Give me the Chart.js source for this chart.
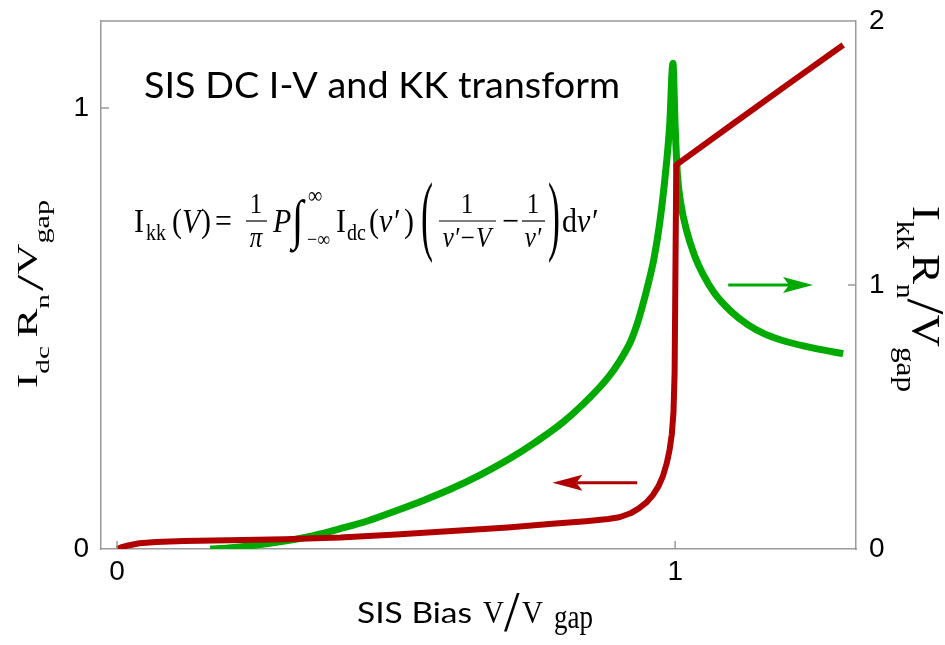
<!DOCTYPE html>
<html>
<head>
<meta charset="utf-8">
<script src="https://cdn.jsdelivr.net/npm/chart.js@4.4.1/dist/chart.umd.min.js"></script>
<style>
  html, body { margin: 0; padding: 0; background: #ffffff; }
  #wrap { width: 945px; height: 645px; position: relative; }
</style>
</head>
<body>
<div id="wrap"><canvas id="c" width="945" height="645"></canvas></div>
<script>
// ---------------- data ----------------
const xTicks = [0, 1];
const yLeftTicks = [0, 1];
const yRightTicks = [0, 1, 2];

// DC I-V curve (left axis)
const idcBias = [0, 0.01, 0.02, 0.04, 0.07, 0.12, 0.2, 0.3, 0.4, 0.5, 0.6, 0.7, 0.78, 0.84, 0.88, 0.9, 0.92, 0.935, 0.948, 0.96, 0.97, 0.978, 0.985, 0.99, 0.994, 0.997, 0.999, 1.0, 1.002, 1.1, 1.2, 1.301];
const idcCurrent = [0, 0.005, 0.008, 0.013, 0.016, 0.018, 0.02, 0.022, 0.026, 0.033, 0.041, 0.049, 0.057, 0.063, 0.068, 0.072, 0.081, 0.092, 0.105, 0.122, 0.142, 0.165, 0.195, 0.225, 0.26, 0.31, 0.4, 0.55, 0.871, 0.961, 1.052, 1.143];

// KK transform (right axis)
const kkBias = [0.167, 0.2, 0.25, 0.3, 0.35, 0.4, 0.45, 0.5, 0.55, 0.6, 0.65, 0.7, 0.75, 0.8, 0.85, 0.88, 0.9, 0.92, 0.93, 0.94, 0.95, 0.962, 0.972, 0.98, 0.99, 0.996, 1.0, 1.004, 1.01, 1.02, 1.035, 1.05, 1.07, 1.1, 1.13, 1.16, 1.2, 1.25, 1.301];
const kkCurrent = [0, 0.004, 0.015, 0.03, 0.05, 0.077, 0.107, 0.145, 0.185, 0.229, 0.28, 0.338, 0.405, 0.482, 0.58, 0.65, 0.71, 0.785, 0.84, 0.91, 0.99, 1.1, 1.23, 1.37, 1.6, 1.84, 1.6, 1.42, 1.31, 1.21, 1.11, 1.04, 0.97, 0.9, 0.85, 0.815, 0.785, 0.76, 0.74];

// direction arrows (data coordinates: tail -> tip)
const idcArrowX = [0.932, 0.78];
const idcArrowY = [0.15, 0.15];
const kkArrowX = [1.095, 1.247];
const kkArrowY = [1.0, 1.0];

// ---------------- styling ----------------
const RED = '#b00000';
const GREEN = '#00aa00';
const AXIS = '#9a9a9a';
const SERIF = '"Liberation Serif", "DejaVu Serif", serif';
const SANS_T = 'Lato, "Open Sans", sans-serif';
const SANS_N = '"Liberation Sans", Arial, sans-serif';

function fontOf(p) {
  return (p.italic ? 'italic ' : '') + p.size + 'px ' + (p.family || SERIF);
}

function T(ctx, s, x, y, size, o) {
  o = o || {};
  ctx.save();
  ctx.translate(x, y);
  if (o.rot) ctx.rotate(o.rot);
  ctx.scale(o.sx || 1, o.sy || 1);
  ctx.font = fontOf({ size: size, italic: o.italic, family: o.family });
  ctx.textAlign = o.align || 'left';
  ctx.textBaseline = 'alphabetic';
  ctx.fillStyle = '#000';
  ctx.fillText(s, 0, 0);
  ctx.restore();
}

// sequential rich text laid out along its baseline and fitted to a length
function rich(ctx, pieces, x, y, rot, length, across) {
  ctx.save();
  let total = 0;
  const w = pieces.map(p => { ctx.font = fontOf(p); const v = ctx.measureText(p.t).width; total += v + (p.gap || 0); return v; });
  const k = length / total;
  ctx.translate(x, y);
  ctx.rotate(rot);
  ctx.scale(k, across);
  ctx.fillStyle = '#000';
  ctx.textAlign = 'left';
  ctx.textBaseline = 'alphabetic';
  let cur = 0;
  pieces.forEach((p, i) => {
    cur += p.gap || 0;
    ctx.font = fontOf(p);
    ctx.fillText(p.t, cur, (p.dy || 0) / across);
    cur += w[i];
  });
  ctx.restore();
}

function hline(ctx, x0, x1, y, w) {
  ctx.save();
  ctx.strokeStyle = '#000';
  ctx.lineWidth = w || 1.2;
  ctx.beginPath(); ctx.moveTo(x0, y); ctx.lineTo(x1, y); ctx.stroke();
  ctx.restore();
}

function arrow(ctx, x0, y0, x1, y1, color) {
  const dir = Math.sign(x1 - x0) || 1;
  const L = 30, H = 8, N = 24;
  ctx.save();
  ctx.strokeStyle = color; ctx.fillStyle = color; ctx.lineWidth = 3;
  ctx.beginPath(); ctx.moveTo(x0, y0); ctx.lineTo(x1 - dir * N, y1); ctx.stroke();
  ctx.beginPath();
  ctx.moveTo(x1, y1);
  ctx.lineTo(x1 - dir * L, y1 - H);
  ctx.lineTo(x1 - dir * N, y1);
  ctx.lineTo(x1 - dir * L, y1 + H);
  ctx.closePath(); ctx.fill();
  ctx.restore();
}

const deco = {
  id: 'deco',
  afterDraw(chart) {
    const ctx = chart.ctx;
    const a = chart.chartArea;
    const sx = chart.scales.x, yl = chart.scales.y, yr = chart.scales.y2;

    // top frame line
    ctx.save();
    ctx.strokeStyle = AXIS; ctx.lineWidth = 1.5;
    ctx.beginPath(); ctx.moveTo(a.left, a.top); ctx.lineTo(a.right, a.top); ctx.stroke();
    // inward tick marks
    xTicks.forEach(v => {
      const p = sx.getPixelForValue(v);
      ctx.beginPath(); ctx.moveTo(p, a.bottom); ctx.lineTo(p, a.bottom - 8); ctx.stroke();
    });
    yLeftTicks.forEach(v => {
      if (v === yLeftTicks[0]) return;
      const p = yl.getPixelForValue(v);
      ctx.beginPath(); ctx.moveTo(a.left, p); ctx.lineTo(a.left + 8, p); ctx.stroke();
    });
    yRightTicks.forEach(v => {
      if (v === yRightTicks[0] || v === yRightTicks[yRightTicks.length - 1]) return;
      const p = yr.getPixelForValue(v);
      ctx.beginPath(); ctx.moveTo(a.right, p); ctx.lineTo(a.right - 8, p); ctx.stroke();
    });
    ctx.restore();

    // arrows
    arrow(ctx, sx.getPixelForValue(idcArrowX[0]), yl.getPixelForValue(idcArrowY[0]),
               sx.getPixelForValue(idcArrowX[1]), yl.getPixelForValue(idcArrowY[1]), RED);
    arrow(ctx, sx.getPixelForValue(kkArrowX[0]), yr.getPixelForValue(kkArrowY[0]),
               sx.getPixelForValue(kkArrowX[1]), yr.getPixelForValue(kkArrowY[1]), GREEN);

    // title
    ctx.save();
    ctx.font = '36px ' + SANS_T;
    const tw = ctx.measureText('SIS DC I-V and KK transform').width;
    ctx.restore();
    T(ctx, 'SIS DC I-V and KK transform', 144, 98, 36, { family: SANS_T, sx: 476 / tw });

    // x-axis title
    ctx.save();
    ctx.font = '28px ' + SANS_T;
    const bw = ctx.measureText('SIS Bias').width;
    ctx.restore();
    T(ctx, 'SIS Bias', 357, 623, 28, { family: SANS_T, sx: 115 / bw });
    T(ctx, 'V', 483, 623, 29, { sy: 1.12 });
    T(ctx, '/', 504, 631, 56);
    T(ctx, 'V', 522, 623, 29, { sy: 1.12 });
    T(ctx, 'gap', 554, 628, 27, { sy: 1.25 });

    // left y title (reading upward)
    rich(ctx, [
      { t: 'I', size: 40 },
      { t: 'dc', size: 27, dy: 12 },
      { t: 'R', size: 40, gap: 8 },
      { t: 'n', size: 27, dy: 12 },
      { t: '/', size: 54, dy: 6, gap: 3 },
      { t: 'V', size: 40 },
      { t: 'gap', size: 28, dy: 12 }
    ], 37, 388, -Math.PI / 2, 188, 0.72);

    // right y title (reading downward)
    rich(ctx, [
      { t: 'I', size: 40 },
      { t: 'kk', size: 26, dy: 16 },
      { t: 'R', size: 40, gap: 4 },
      { t: 'n', size: 26, dy: 16 },
      { t: '/', size: 52, dy: 5 },
      { t: 'V', size: 40 },
      { t: 'gap', size: 28, dy: 16 }
    ], 913, 206, Math.PI / 2, 186, 1.0);

    // equation
    const S = 1.15;
    T(ctx, 'I', 134, 232, 30, { sy: S });
    T(ctx, 'kk', 146, 240, 20, { sy: S });
    T(ctx, '(', 172, 232, 30, { sy: S });
    T(ctx, 'V', 182, 232, 30, { sy: S, italic: true });
    T(ctx, ')', 201, 232, 30, { sy: S });
    T(ctx, '=', 215, 232, 30, { sy: S });
    T(ctx, '1', 256, 213, 25, { sy: S, align: 'center' });
    hline(ctx, 246, 267, 221);
    T(ctx, 'π', 256, 247, 25, { sy: S, italic: true, align: 'center' });
    T(ctx, 'P', 273, 232, 30, { sy: S, italic: true });
    T(ctx, '∫', 292, 238, 42, { sy: 1.3 });
    T(ctx, '∞', 308, 203, 20, { sy: S });
    T(ctx, '−∞', 307, 246, 18, { sy: S });
    T(ctx, 'I', 336, 232, 30, { sy: S });
    T(ctx, 'dc', 347, 240, 20, { sy: S });
    T(ctx, '(', 369, 232, 30, { sy: S });
    T(ctx, 'v′', 379, 232, 30, { sy: S, italic: true });
    T(ctx, ')', 404, 232, 30, { sy: S });
    T(ctx, '(', 421, 244, 36, { sy: 2.45 });
    T(ctx, '1', 467, 213, 25, { sy: S, align: 'center' });
    hline(ctx, 439, 496, 221);
    T(ctx, 'v′−V', 467, 247, 25, { sy: S, italic: true, align: 'center' });
    T(ctx, '−', 502, 232, 30, { sy: S });
    T(ctx, '1', 533, 213, 25, { sy: S, align: 'center' });
    hline(ctx, 522, 545, 221);
    T(ctx, 'v′', 533, 247, 25, { sy: S, italic: true, align: 'center' });
    T(ctx, ')', 548, 244, 36, { sy: 2.45 });
    T(ctx, 'd', 562, 232, 30, { sy: S });
    T(ctx, 'v′', 577, 232, 30, { sy: S, italic: true });
  }
};

const tickFont = { family: SANS_N, size: 28 };
function noPad(s) { s.paddingTop = 0; s.paddingBottom = 0; s.paddingLeft = 0; s.paddingRight = 0; }

new Chart(document.getElementById('c'), {
  type: 'line',
  data: {
    datasets: [
      {
        label: 'Idc',
        data: idcBias.map((x, i) => ({ x: x, y: idcCurrent[i] })),
        yAxisID: 'y',
        borderColor: RED,
        borderWidth: 6,
        pointRadius: 0,
        tension: 0,
        fill: false,
        borderJoinStyle: 'round'
      },
      {
        label: 'Ikk',
        data: kkBias.map((x, i) => ({ x: x, y: kkCurrent[i] })),
        yAxisID: 'y2',
        borderColor: GREEN,
        borderWidth: 7,
        pointRadius: 0,
        cubicInterpolationMode: 'monotone',
        fill: false,
        borderJoinStyle: 'round'
      }
    ]
  },
  options: {
    responsive: false,
    animation: false,
    layout: { padding: { top: 21, left: 0, right: 0, bottom: 0 } },
    plugins: { legend: { display: false }, tooltip: { enabled: false }, title: { display: false } },
    scales: {
      x: {
        type: 'linear', position: 'bottom', min: -0.0287, max: 1.324,
        grid: { display: false, drawTicks: false },
        border: { display: true, color: AXIS, width: 1.5 },
        afterBuildTicks: s => { s.ticks = xTicks.map(v => ({ value: v })); },
        afterFit: s => { s.height = 96; noPad(s); },
        ticks: { font: tickFont, color: '#000', padding: 6, maxRotation: 0, callback: v => String(v) }
      },
      y: {
        type: 'linear', position: 'left', min: 0, max: 1.1973,
        grid: { display: false, drawTicks: false },
        border: { display: true, color: AXIS, width: 1.5 },
        afterBuildTicks: s => { s.ticks = yLeftTicks.map(v => ({ value: v })); },
        afterFit: s => { s.width = 101; noPad(s); },
        ticks: { font: tickFont, color: '#000', padding: 12, callback: v => String(v) }
      },
      y2: {
        type: 'linear', position: 'right', min: 0, max: 2.0,
        grid: { display: false, drawTicks: false },
        border: { display: true, color: AXIS, width: 1.5 },
        afterBuildTicks: s => { s.ticks = yRightTicks.map(v => ({ value: v })); },
        afterFit: s => { s.width = 89; noPad(s); },
        ticks: { font: tickFont, color: '#000', padding: 13, callback: v => String(v) }
      }
    }
  },
  plugins: [deco]
});
</script>
</body>
</html>
